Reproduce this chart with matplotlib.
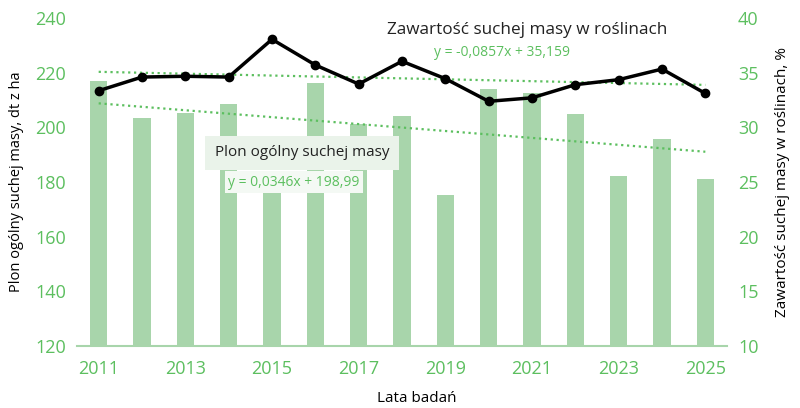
import numpy as np
import matplotlib
matplotlib.use("Agg")
import matplotlib.pyplot as plt

plt.rcParams['font.family'] = ['Open Sans', 'DejaVu Sans']

# dane
lata = [2011, 2012, 2013, 2014, 2015, 2016, 2017, 2018, 2019, 2020, 2021, 2022, 2023, 2024, 2025]
plon = [217.0, 203.4, 205.1, 208.6, 178.0, 216.1, 201.2, 204.0, 175.2, 214.0, 212.4, 205.0, 182.2, 195.7, 181.0]
sucha_masa = [33.35, 34.6, 34.67, 34.6, 38.05, 35.7, 33.96, 36.04, 34.45, 32.38, 32.7, 33.9, 34.36, 35.33, 33.1]
lata_ticks = [2011, 2013, 2015, 2017, 2019, 2021, 2023, 2025]
rownanie_plon = "y = 0,0346x + 198,99"
rownanie_sm = "y = -0,0857x + 35,159"

zielony = '#5cbf5f'
slupki = '#a8d5ab'

fig = plt.figure(figsize=(8, 4.08), dpi=100)
ax = fig.add_axes([77/800, 1-346/408, 650/800, 328/408])
ax2 = ax.twinx()

ax.bar(lata, plon, width=0.4, color=slupki, zorder=2)
# linie trendu
x = np.array(lata)
a, b = np.polyfit(x, plon, 1)
ax.plot(x, a*x + b, ':', color=zielony, lw=1.6, zorder=3)
a2, b2 = np.polyfit(x, sucha_masa, 1)
ax2.plot(x, a2*x + b2, ':', color=zielony, lw=1.6, zorder=3)
ax2.plot(lata, sucha_masa, color='black', lw=2.5, marker='o', ms=6, zorder=4)

ax.set_ylim(120, 240)
ax2.set_ylim(10, 40)
ax.set_xlim(2010.5, 2025.5)
ax.set_yticks(range(120, 241, 20))
ax2.set_yticks(range(10, 41, 5))
ax.set_xticks(lata_ticks)

for a_ in (ax, ax2):
    for s in a_.spines.values():
        s.set_visible(False)
    a_.tick_params(length=0, labelsize=13, colors=zielony, pad=8)
ax.spines['bottom'].set_visible(True)
ax.spines['bottom'].set_color('#a8d5ab')
ax.spines['bottom'].set_linewidth(1.5)
ax.tick_params(axis='x', pad=10)

fig.text(417/800, 1-398/408, 'Lata badań', ha='center', va='center', fontsize=11, color='black')
ax.set_ylabel('Plon ogólny suchej masy, dt z ha', fontsize=10.5, color='black', labelpad=8)
ax2.set_ylabel('Zawartość suchej masy w roślinach, %', fontsize=11, color='black', labelpad=12)

ax.text(302/800, 1-153/408, 'Plon ogólny suchej masy', transform=fig.transFigure,
        ha='center', va='center', fontsize=11, color='#222222', zorder=6,
        bbox=dict(boxstyle='square,pad=0.65', fc='#eaf3ea', ec='none'))
ax.text(294/800, 1-182/408, rownanie_plon, transform=fig.transFigure,
        ha='center', va='center', fontsize=10, color=zielony, zorder=6,
        bbox=dict(boxstyle='square,pad=0.25', fc='#f4f9f4', ec='none'))
fig.text(527/800, 1-30/408, 'Zawartość suchej masy w roślinach',
         ha='center', va='center', fontsize=12.3, color='#222222')
fig.text(502/800, 1-52/408, rownanie_sm,
         ha='center', va='center', fontsize=10, color=zielony)

fig.savefig('out.png', dpi=100)
